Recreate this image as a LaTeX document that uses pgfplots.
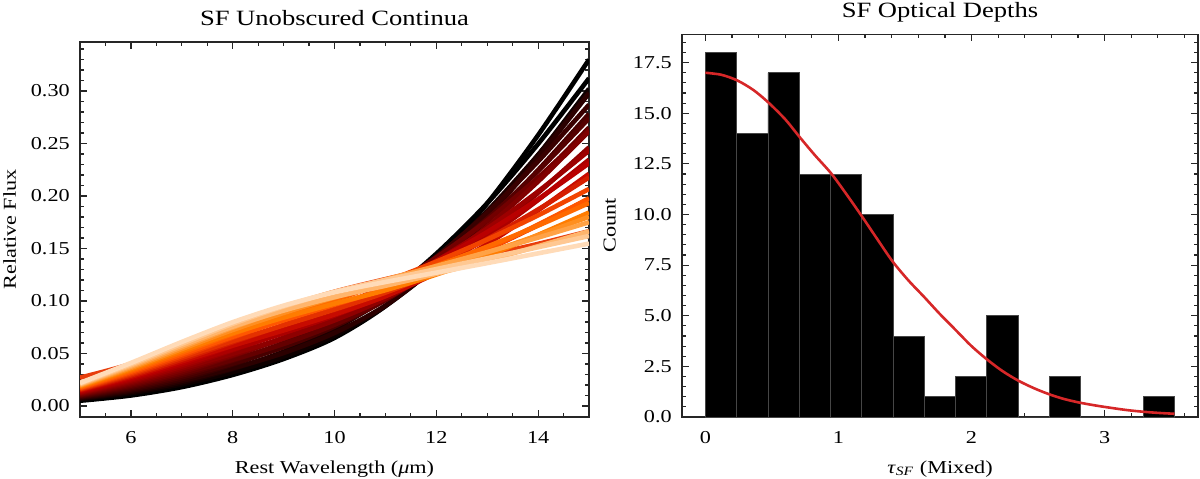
\documentclass[border=0pt]{standalone}
\usepackage{fontspec}
\setmainfont{Liberation Serif}[FakeStretch=1.22]
\usepackage{pgfplots}
\pgfplotsset{compat=1.18}
\newcommand\crv[2]{\addplot[smooth, line width=2.3pt, color={rgb,255:#1}] coordinates {#2};}
\pgfplotsset{
  mystyle/.style={
    scale only axis,
    axis line style={line width=0.8pt, black!85},
    tick align=inside,
    tick pos=both,
    major tick length=3.5pt,
    minor tick length=2pt,
    tick style={line width=0.6pt, black!85},
    tick label style={font=\fontsize{9.1}{11}\selectfont},
    label style={font=\fontsize{9.1}{11}\selectfont},
    title style={font=\fontsize{10.9}{13}\selectfont, at={(0.5,1)}, anchor=base, yshift=2.2pt},
    /pgf/number format/assume math mode=true,
    xticklabel style={yshift=-3.5pt},
    yticklabel style={xshift=-1.6pt},
    xlabel style={at={(axis description cs:0.5,0)}, anchor=base, yshift=-28pt},
  }
}
\begin{document}
\begin{tikzpicture}
\useasboundingbox (0,0) rectangle (600pt,239pt);
\begin{axis}[mystyle, at={(40pt,30.5pt)}, anchor=south west, width=254.5pt, height=187.5pt,
 xmin=5, xmax=15, ymin=-0.0105, ymax=0.3467,
 xtick={6,8,10,12,14}, minor xtick={5,5.5,...,15},
 ytick={0,0.05,0.1,0.15,0.2,0.25,0.3}, minor ytick={-0.01,0,...,0.34},
 yticklabel style={/pgf/number format/.cd, fixed, fixed zerofill, precision=2},
 title={SF Unobscured Continua}, xlabel={Rest Wavelength (\textit{μ}m)}, ylabel={Relative Flux},
 ylabel style={at={(axis description cs:-0.138,0.5)}, anchor=center}]
\crv{red,232;green,62;blue,12}{(5,.0270)(6,.0400)(7,.0580)(8,.0766)(9,.0936)(10,.1088)(11,.1208)(12,.1320)(13,.1434)(14,.1544)(15,.1664)}
\crv{red,0;green,0;blue,0}{(5,.0050)(6,.0100)(7,.0180)(8,.0296)(9,.0448)(10,.0649)(11,.0952)(12,.1380)(13,.1930)(14,.2580)(15,.3300)}
\crv{red,0;green,0;blue,0}{(5,.0060)(6,.0110)(7,.0190)(8,.0319)(9,.0494)(10,.0732)(11,.1047)(12,.1450)(13,.1931)(14,.2496)(15,.3121)}
\crv{red,14;green,0;blue,0}{(5,.0066)(6,.0122)(7,.0207)(8,.0323)(9,.0470)(10,.0671)(11,.0951)(12,.1336)(13,.1818)(14,.2390)(15,.3021)}
\crv{red,28;green,0;blue,0}{(5,.0073)(6,.0134)(7,.0224)(8,.0352)(9,.0517)(10,.0736)(11,.1025)(12,.1401)(13,.1857)(14,.2392)(15,.2983)}
\crv{red,43;green,0;blue,0}{(5,.0079)(6,.0146)(7,.0240)(8,.0360)(9,.0505)(10,.0696)(11,.0957)(12,.1327)(13,.1797)(14,.2364)(15,.2979)}
\crv{red,57;green,0;blue,0}{(5,.0086)(6,.0158)(7,.0257)(8,.0396)(9,.0568)(10,.0789)(11,.1070)(12,.1422)(13,.1841)(14,.2330)(15,.2870)}
\crv{red,71;green,0;blue,0}{(5,.0092)(6,.0170)(7,.0274)(8,.0405)(9,.0560)(10,.0756)(11,.1011)(12,.1348)(13,.1761)(14,.2248)(15,.2783)}
\crv{red,85;green,0;blue,0}{(5,.0098)(6,.0182)(7,.0291)(8,.0432)(9,.0600)(10,.0807)(11,.1067)(12,.1394)(13,.1784)(14,.2238)(15,.2739)}
\crv{red,100;green,0;blue,0}{(5,.0105)(6,.0194)(7,.0308)(8,.0441)(9,.0591)(10,.0774)(11,.1008)(12,.1319)(13,.1704)(14,.2156)(15,.2652)}
\crv{red,114;green,0;blue,0}{(5,.0111)(6,.0206)(7,.0324)(8,.0476)(9,.0651)(10,.0860)(11,.1111)(12,.1415)(13,.1767)(14,.2176)(15,.2625)}
\crv{red,128;green,0;blue,0}{(5,.0118)(6,.0218)(7,.0341)(8,.0484)(9,.0642)(10,.0827)(11,.1053)(12,.1345)(13,.1709)(14,.2138)(15,.2617)}
\crv{red,142;green,0;blue,0}{(5,.0124)(6,.0230)(7,.0358)(8,.0498)(9,.0646)(10,.0815)(11,.1023)(12,.1296)(13,.1634)(14,.2030)(15,.2463)}
\crv{red,157;green,0;blue,0}{(5,.0130)(6,.0242)(7,.0375)(8,.0532)(9,.0702)(10,.0894)(11,.1116)(12,.1382)(13,.1690)(14,.2044)(15,.2432)}
\crv{red,171;green,0;blue,0}{(5,.0137)(6,.0254)(7,.0392)(8,.0540)(9,.0693)(10,.0861)(11,.1058)(12,.1307)(13,.1610)(14,.1962)(15,.2346)}
\crv{red,185;green,0;blue,0}{(5,.0143)(6,.0266)(7,.0408)(8,.0573)(9,.0745)(10,.0933)(11,.1142)(12,.1383)(13,.1657)(14,.1970)(15,.2312)}
\crv{red,199;green,11;blue,0}{(5,.0150)(6,.0278)(7,.0425)(8,.0575)(9,.0720)(10,.0872)(11,.1045)(12,.1268)(13,.1543)(14,.1864)(15,.2211)}
\crv{red,213;green,30;blue,0}{(5,.0156)(6,.0290)(7,.0442)(8,.0607)(9,.0772)(10,.0944)(11,.1129)(12,.1344)(13,.1591)(14,.1872)(15,.2177)}
\crv{red,228;green,49;blue,0}{(5,.0162)(6,.0302)(7,.0459)(8,.0618)(9,.0768)(10,.0918)(11,.1080)(12,.1270)(13,.1489)(14,.1722)(15,.1976)}
\crv{red,242;green,68;blue,0}{(5,.0169)(6,.0314)(7,.0476)(8,.0652)(9,.0827)(10,.1004)(11,.1183)(12,.1375)(13,.1585)(14,.1816)(15,.2067)}
\crv{red,255;green,86;blue,0}{(5,.0175)(6,.0326)(7,.0492)(8,.0660)(9,.0815)(10,.0964)(11,.1115)(12,.1291)(13,.1495)(14,.1728)(15,.1977)}
\crv{red,255;green,105;blue,0}{(5,.0182)(6,.0338)(7,.0509)(8,.0686)(9,.0854)(10,.1015)(11,.1171)(12,.1336)(13,.1518)(14,.1718)(15,.1933)}
\crv{red,255;green,124;blue,0}{(5,.0188)(6,.0350)(7,.0526)(8,.0694)(9,.0842)(10,.0975)(11,.1103)(12,.1252)(13,.1430)(14,.1630)(15,.1843)}
\crv{red,255;green,143;blue,32}{(5,.0194)(6,.0362)(7,.0543)(8,.0724)(9,.0886)(10,.1033)(11,.1168)(12,.1308)(13,.1461)(14,.1626)(15,.1802)}
\crv{red,255;green,162;blue,70}{(5,.0201)(6,.0374)(7,.0560)(8,.0747)(9,.0917)(10,.1070)(11,.1204)(12,.1333)(13,.1466)(14,.1604)(15,.1750)}
\crv{red,255;green,181;blue,108}{(5,.0207)(6,.0386)(7,.0576)(8,.0756)(9,.0909)(10,.1037)(11,.1145)(12,.1259)(13,.1385)(14,.1522)(15,.1664)}
\crv{red,255;green,200;blue,146}{(5,.0214)(6,.0398)(7,.0593)(8,.0783)(9,.0948)(10,.1088)(11,.1201)(12,.1304)(13,.1407)(14,.1512)(15,.1619)}
\crv{red,255;green,219;blue,184}{(5,.0220)(6,.0410)(7,.0610)(8,.0798)(9,.0956)(10,.1083)(11,.1181)(12,.1270)(13,.1361)(14,.1454)(15,.1547)}
\end{axis}
\begin{axis}[mystyle, at={(341pt,30.5pt)}, anchor=south west, width=258pt, height=191.35pt,
 xmin=-0.176, xmax=3.702, ymin=0, ymax=18.9,
 xtick={0,1,2,3}, minor xtick={0,0.2,...,3.6},
 ytick={0,2.5,...,17.5}, minor ytick={0,0.5,...,18.5},
 yticklabel style={/pgf/number format/.cd, fixed, fixed zerofill, precision=1},
 title={SF Optical Depths}, xlabel={\textit{τ}\textsubscript{\textit{SF}} (Mixed)}, ylabel={Count},
 ylabel style={at={(axis description cs:-0.140,0.5)}, anchor=center}]
\addplot[ybar interval, fill=black, draw={rgb,255:red,70;green,70;blue,70}, line width=0.4pt] coordinates {
(0,18)(0.235,14)(0.47,17)(0.705,12)(0.94,12)(1.175,10)(1.41,4)(1.645,1)(1.88,2)(2.115,5)(2.35,0)(2.585,2)(2.82,0)(3.055,0)(3.29,1)(3.525,1)};
\addplot[smooth, line width=1.3pt, color={rgb,255:red,214;green,39;blue,40}] coordinates {
(0,17.0)(0.12,16.9)(0.24,16.62)(0.36,16.15)(0.47,15.55)(0.6,14.7)(0.7025,13.87)(0.82,12.95)(0.945,12.03)(1.06,11.0)(1.175,9.92)(1.29,8.8)(1.407,7.68)(1.525,6.75)(1.645,5.92)(1.76,5.1)(1.88,4.3)(2.0,3.5)(2.115,2.85)(2.23,2.28)(2.35,1.8)(2.47,1.42)(2.585,1.12)(2.7,0.88)(2.82,0.7)(2.94,0.56)(3.05,0.45)(3.17,0.34)(3.29,0.26)(3.41,0.2)(3.525,0.16)};
\end{axis}
\end{tikzpicture}
\end{document}
